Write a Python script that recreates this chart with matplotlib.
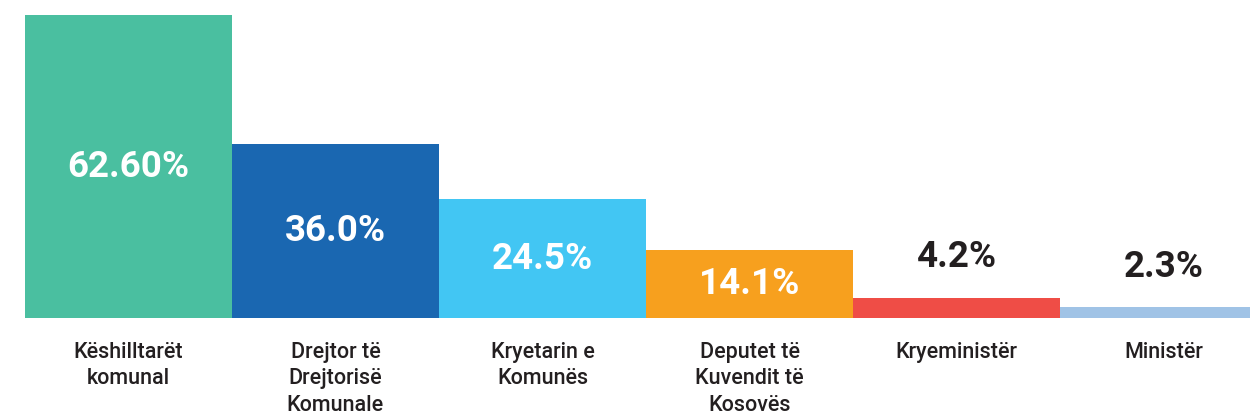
import matplotlib.pyplot as plt

categories = ["Këshilltarët\nkomunal", "Drejtor të\nDrejtorisë\nKomunale",
              "Kryetarin e\nKomunës", "Deputet të\nKuvendit të\nKosovës",
              "Kryeministër", "Ministër"]
values = [62.6, 36.0, 24.5, 14.1, 4.2, 2.3]
value_labels = ["62.60%", "36.0%", "24.5%", "14.1%", "4.2%", "2.3%"]
colors = ["#4abfa0", "#1a67b1", "#42c6f3", "#f7a01e", "#ef4d46", "#a0c3e6"]
inside = [True, True, True, True, False, False]

plt.rcParams['font.family'] = ['Roboto', 'DejaVu Sans']
TEXT = "#231f20"

fig = plt.figure(figsize=(12.5, 4.17), dpi=100)
ax = fig.add_axes([0.02, 0.2374, 0.98, 0.7266])
x = range(len(values))
ax.bar(x, values, width=1.0, color=colors, linewidth=0)
ax.set_xlim(-0.5, -0.5 + 1225 / 207)
ax.set_ylim(0, 62.6)
ax.axis('off')

for i, (v, lab) in enumerate(zip(values, value_labels)):
    if inside[i]:
        ax.text(i, v / 2, lab, ha='center', va='center', color='white',
                fontsize=26.5, fontweight='bold')
    else:
        ax.annotate(lab, (i, v), xytext=(0, 16), textcoords='offset points',
                    ha='center', va='bottom', color=TEXT,
                    fontsize=26.5, fontweight='bold')

for i, cat in enumerate(categories):
    ax.annotate(cat, (i, 0), xytext=(0, -17), textcoords='offset points',
                ha='center', va='top', color=TEXT, fontsize=15.5,
                fontweight='medium', linespacing=1.35, annotation_clip=False)

fig.savefig("out.png", dpi=100)
